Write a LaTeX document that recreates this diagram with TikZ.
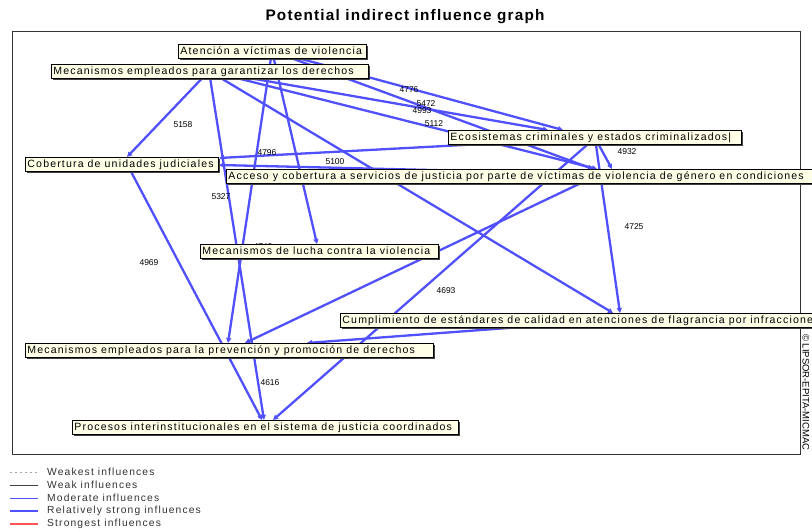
\documentclass[tikz,border=0pt]{standalone}
\usepackage{fontspec}
\setmainfont{Liberation Sans}
\newfontfamily\boxfont[LetterSpace=11]{Liberation Sans}
\newfontfamily\titlefont[LetterSpace=8]{Liberation Sans}
\usetikzlibrary{arrows.meta,calc,shadows}
\pgfdeclarelayer{edges}
\pgfsetlayers{edges,main}
\definecolor{edgeblue}{RGB}{80,80,255}
\definecolor{boxfill}{RGB}{255,255,232}
\definecolor{strongred}{RGB}{255,85,85}
\newcommand\bxt[2]{\makebox[#1pt][l]{#2}}
\tikzset{
  varbox/.style={draw=black, line width=0.9pt, fill=boxfill,
    font=\boxfont\fontsize{10.55}{12}\selectfont, inner xsep=2pt, inner ysep=0pt,
    minimum height=14pt, text height=8.3pt, text depth=2.5pt, anchor=north west,
    drop shadow={shadow xshift=2pt, shadow yshift=-2pt, fill=black!75, opacity=1}},
  infl/.style={draw=edgeblue, line width=2.3pt, -{Triangle[length=5pt,width=5pt]}},
  val/.style={font=\fontsize{8.5}{10}\selectfont, inner sep=0pt},
  legtext/.style={font=\boxfont\fontsize{10.3}{12}\selectfont, text=black!80, anchor=west, inner sep=0pt},
  frame/.style={draw=black!80, line width=1pt}
}
\begin{document}
\begin{tikzpicture}[x=1pt,y=-1pt]
\useasboundingbox (0,0) rectangle (812,532);

% title and outer frame
\node[font=\titlefont\bfseries\fontsize{15.3}{17}\selectfont] (title) at (405,17) {Potential indirect influence graph};
\draw[frame] (12,32) rectangle (800,454);

% variables
\node[varbox] (aten) at (178,44) {\bxt{184}{Atención a víctimas de violencia}};
\node[varbox] (gar)  at (51,64)  {\bxt{313}{Mecanismos empleados para garantizar los derechos}};
\node[varbox] (eco)  at (448,130) {\bxt{289}{Ecosistemas criminales y estados criminalizados|}};
\node[varbox] (cob)  at (25,157) {\bxt{189}{Cobertura de unidades judiciales}};
\node[varbox] (acc)  at (226,169) {\bxt{600}{Acceso y cobertura a servicios de justicia por parte de víctimas de violencia de género en condiciones}};
\node[varbox] (luc)  at (200,244) {\bxt{234}{Mecanismos de lucha contra la violencia}};
\node[varbox] (cum)  at (340,313) {\bxt{480}{Cumplimiento de estándares de calidad en atenciones de flagrancia por infracciones}};
\node[varbox] (pre)  at (25,343) {\bxt{404}{Mecanismos empleados para la prevención y promoción de derechos}};
\node[varbox] (pro)  at (72,420) {\bxt{382}{Procesos interinstitucionales en el sistema de justicia coordinados}};

% anchor points of the variables
\coordinate (atenA) at ($(aten.north west)+(94,7)$);
\coordinate (garA)  at ($(gar.north west)+(158,7)$);
\coordinate (ecoA)  at ($(eco.north west)+(147,8)$);
\coordinate (cobA)  at ($(cob.north west)+(102,7)$);
\coordinate (accA)  at ($(acc.north west)+(374,5)$);
\coordinate (cumA)  at ($(cum.north west)+(275,7)$);

\begin{pgfonlayer}{edges}
\draw[infl] (garA) -- ($(cob.north west)+(102,0)$);
\draw[infl] (cobA) -- ($(pro.north west)+(190,0)$);
\draw[infl] (garA) -- ($(pro.north west)+(192,0)$);
\draw[infl] (atenA) -- ($(pre.north west)+(203,0)$);
\draw[infl] (atenA) -- ($(luc.north west)+(117,0)$);
\draw[infl] (garA) -- ($(cum.north west)+(273,0)$);
\draw[infl] (ecoA) -- ($(cob.north west)+(194,1)$);
\draw[infl] (accA) -- ($(cob.north west)+(194,8)$);
\draw[infl] (ecoA) -- ($(acc.north west)+(386,0)$);
\draw[infl] (ecoA) -- ($(cum.north west)+(280,0)$);
\draw[infl] (ecoA) -- ($(pro.north west)+(201,0)$);
\draw[infl] (accA) -- ($(pre.north west)+(220,0)$);
\draw[infl] (cumA) -- ($(pre.north west)+(282,0)$);
\draw[infl] (atenA) -- ($(eco.north west)+(115,0)$);
\draw[infl] (atenA) -- ($(acc.north west)+(367,0)$);
\draw[infl] (garA) -- ($(eco.north west)+(100,0)$);
\draw[infl] (garA) -- ($(acc.north west)+(371,0)$);

% influence values
\node[val] (v1)  at (183,125) {5158};
\node[val] (v2)  at (267,153) {4796};
\node[val] (v3)  at (335,162) {5100};
\node[val] (v4)  at (221,197) {5327};
\node[val] (v5)  at (263,247) {4740};
\node[val] (v6)  at (409,90)  {4776};
\node[val] (v7)  at (426,104) {5472};
\node[val] (v8)  at (422,111) {4993};
\node[val] (v9)  at (434,124) {5112};
\node[val] (v10) at (627,152) {4932};
\node[val] (v11) at (634,227) {4725};
\node[val] (v12) at (149,263) {4969};
\node[val] (v13) at (446,291) {4693};
\node[val] (v14) at (270,383) {4616};
\node[val] (v15) at (432,183) {4839};
\end{pgfonlayer}

% copyright
\node[rotate=-90, anchor=west, font=\fontsize{9.5}{11}\selectfont, inner sep=0pt] (copy) at (806,334) {© LIPSOR-EPITA-MICMAC};

% legend
\node[legtext] (lg1) at (47,472) {Weakest influences};
\node[legtext] (lg2) at (47,485) {Weak influences};
\node[legtext] (lg3) at (47,498) {Moderate influences};
\node[legtext] (lg4) at (47,511) {Relatively strong influences};
\node[legtext] (lg5) at (47,524) {Strongest influences};
\draw[black!35, line width=0.8pt, dash pattern=on 2pt off 3pt] ($(lg1.west)+(-37,0)$) -- ($(lg1.west)+(-9,0)$);
\draw[black!75, line width=0.8pt] ($(lg2.west)+(-37,0)$) -- ($(lg2.west)+(-9,0)$);
\draw[edgeblue, line width=0.8pt] ($(lg3.west)+(-37,0)$) -- ($(lg3.west)+(-9,0)$);
\draw[edgeblue, line width=2.3pt] ($(lg4.west)+(-37,0)$) -- ($(lg4.west)+(-9,0)$);
\draw[strongred, line width=2.8pt] ($(lg5.west)+(-37,0)$) -- ($(lg5.west)+(-9,0)$);
\end{tikzpicture}
\end{document}
